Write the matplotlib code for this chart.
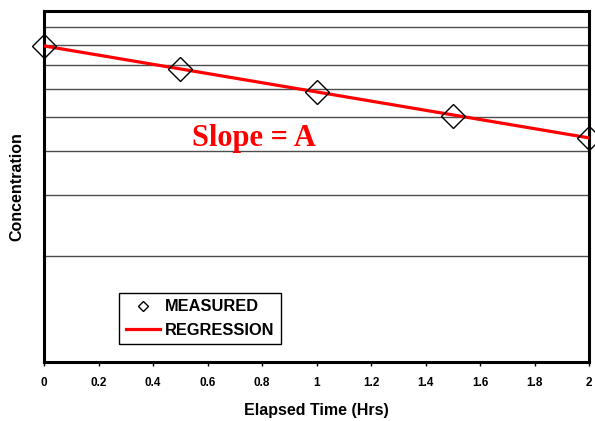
import matplotlib.pyplot as plt
from matplotlib.ticker import FixedLocator, NullFormatter

# measured concentration (log axis, arbitrary units) vs elapsed time
hours = [0, 0.5, 1, 1.5, 2]
measured = [7.95, 6.84, 5.88, 5.02, 4.35]
reg_hours = [0, 2]
regression = [7.95, 4.35]
grid_levels = [2, 3, 4, 5, 6, 7, 8, 9]
xticks = [0, 0.2, 0.4, 0.6, 0.8, 1, 1.2, 1.4, 1.6, 1.8, 2]
xtick_labels = ['0', '0.2', '0.4', '0.6', '0.8', '1', '1.2', '1.4', '1.6', '1.8', '2']

plt.rcParams['font.family'] = ['Liberation Sans', 'DejaVu Sans']

fig = plt.figure(figsize=(5.95, 4.21), dpi=100)
ax = fig.add_axes([0.074, 0.140, 0.916, 0.834])

ax.set_yscale('log')
ax.set_ylim(1, 10)
ax.set_xlim(0, 2)

for lvl in grid_levels:
    ax.axhline(lvl, color='#4d4d4d', linewidth=1.0, zorder=1)

ax.plot(reg_hours, regression, color='red', linewidth=2.3, label='REGRESSION', zorder=3)
ax.plot(hours, measured, linestyle='none', marker='D', markersize=12.5,
        markerfacecolor='none', markeredgecolor='black', markeredgewidth=1.0,
        label='MEASURED', zorder=4, clip_on=False)

ax.text(0.772, 4.12, 'Slope = A', color='red', fontsize=22, fontweight='bold',
        family='Liberation Serif', ha='center', va='baseline', zorder=5)

ax.yaxis.set_major_locator(FixedLocator([]))
ax.yaxis.set_minor_locator(FixedLocator([]))
ax.yaxis.set_minor_formatter(NullFormatter())
ax.set_xticks(xticks)
ax.set_xticklabels(xtick_labels, fontsize=8.5, fontweight='bold')
ax.tick_params(axis='x', direction='out', length=3, width=1, pad=8)

for sp in ax.spines.values():
    sp.set_linewidth(2.2)
    sp.set_color('black')

ax.set_xlabel('Elapsed Time (Hrs)', fontsize=11.5, fontweight='bold', labelpad=10)
ax.set_ylabel('Concentration', fontsize=11.5, fontweight='bold', labelpad=14)

handles, labels = ax.get_legend_handles_labels()
leg = ax.legend(handles[::-1], labels[::-1], loc='lower left', bbox_to_anchor=(0.1376, 0.051),
                borderaxespad=0, prop={'weight': 'bold', 'size': 11.8}, frameon=True,
                fancybox=False, edgecolor='black', framealpha=1, markerscale=0.4,
                handlelength=2.1, handletextpad=0.3, borderpad=0.4, labelspacing=0.5)
leg.get_frame().set_linewidth(1.0)

fig.savefig('out.png', dpi=100)
